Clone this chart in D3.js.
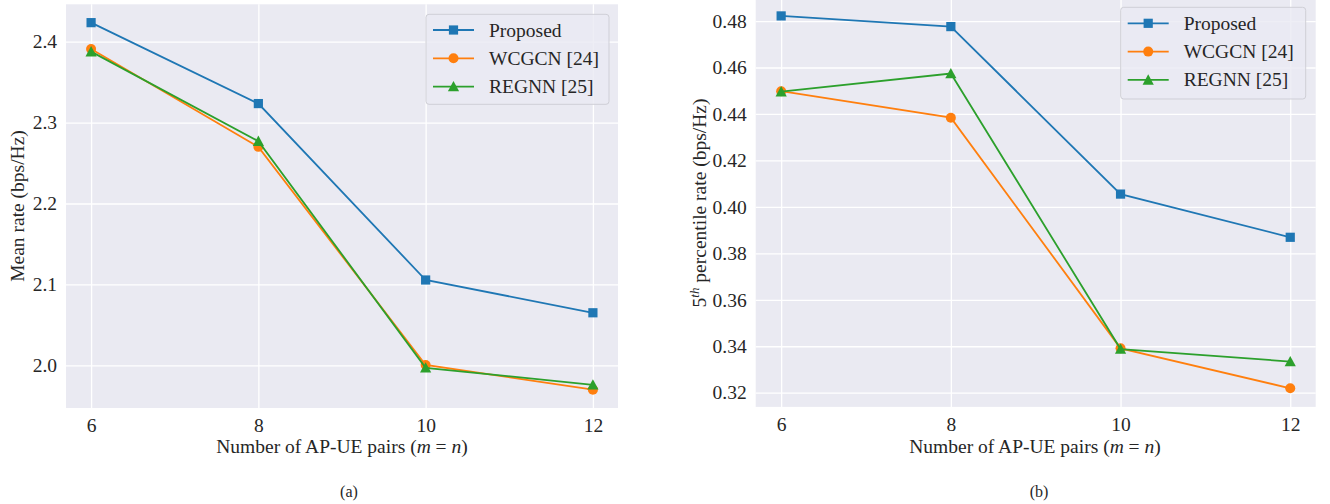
<!DOCTYPE html>
<html>
<head>
<meta charset="utf-8">
<script src="https://cdn.jsdelivr.net/npm/d3@7"></script>
<style>
  html, body { margin: 0; padding: 0; background: #ffffff; }
  svg { display: block; }
  svg text { font-family: 'Liberation Serif', 'Times New Roman', Times, 'DejaVu Serif', serif !important; fill: #262626; }
</style>
</head>
<body>
<svg id="chart" width="1330" height="504" font-family="Liberation Serif, Times New Roman, serif"></svg>
<script>
// ---------- data ----------
const xValues = [6, 8, 10, 12];
const seriesNames = ["Proposed", "WCGCN [24]", "REGNN [25]"];
const seriesColors = ["#1f77b4", "#ff7f0e", "#2ca02c"];
const seriesMarkers = ["square", "circle", "triangle"];

const meanProposed = [2.4235, 2.3235, 2.1055, 2.065];
const meanWCGCN    = [2.391, 2.270, 2.0005, 1.970];
const meanREGNN    = [2.3877, 2.277, 1.997, 1.976];

const p5Proposed = [0.4822, 0.4776, 0.4055, 0.3869];
const p5WCGCN    = [0.4498, 0.4384, 0.3391, 0.3219];
const p5REGNN    = [0.4496, 0.4574, 0.3388, 0.3334];

const xTicks = [6, 8, 10, 12];
const meanTicks = [2.0, 2.1, 2.2, 2.3, 2.4];
const p5Ticks = [0.32, 0.34, 0.36, 0.38, 0.40, 0.42, 0.44, 0.46, 0.48];

// ---------- drawing ----------
const svg = d3.select("#chart");
const FS = 19.5;
const FONT = "'Liberation Serif', 'Times New Roman', Times, serif";

function padDomain(arrs) {
  const all = arrs.flat();
  const mn = d3.min(all), mx = d3.max(all), sp = mx - mn;
  return [mn - 0.05 * sp, mx + 0.05 * sp];
}

function drawPanel(cfg) {
  const g = svg.append("g");
  const x = d3.scaleLinear().domain([5.7, 12.3]).range([cfg.left, cfg.right]);
  const y = d3.scaleLinear().domain(padDomain(cfg.series)).range([cfg.bottom, cfg.top]);

  g.append("rect")
    .attr("x", cfg.left).attr("y", cfg.top)
    .attr("width", cfg.right - cfg.left).attr("height", cfg.bottom - cfg.top)
    .attr("fill", "#eaeaf2");

  const yAxis = d3.axisLeft(y).tickValues(cfg.yTicks).tickFormat(d3.format(cfg.yFmt))
    .tickSize(-(cfg.right - cfg.left)).tickPadding(9);
  const ya = g.append("g").attr("transform", `translate(${cfg.left},0)`).call(yAxis);
  ya.attr("font-family", null).attr("font-size", null);
  ya.select(".domain").remove();
  ya.selectAll(".tick line").attr("stroke", "#ffffff").attr("stroke-width", 1.3);
  ya.selectAll(".tick text").attr("font-size", FS).style("font-family", FONT);

  const xAxis = d3.axisBottom(x).tickValues(xTicks).tickFormat(d3.format("d"))
    .tickSize(-(cfg.bottom - cfg.top)).tickPadding(10);
  const xa = g.append("g").attr("transform", `translate(0,${cfg.bottom})`).call(xAxis);
  xa.attr("font-family", null).attr("font-size", null);
  xa.select(".domain").remove();
  xa.selectAll(".tick line").attr("stroke", "#ffffff").attr("stroke-width", 1.3);
  xa.selectAll(".tick text").attr("font-size", FS).style("font-family", FONT);

  const clipId = "clip" + cfg.id;
  svg.append("clipPath").attr("id", clipId).append("rect")
    .attr("x", cfg.left).attr("y", cfg.top)
    .attr("width", cfg.right - cfg.left).attr("height", cfg.bottom - cfg.top);

  const plot = g.append("g").attr("clip-path", `url(#${clipId})`);
  const line = d3.line().x((d, i) => x(xValues[i])).y(d => y(d));

  cfg.series.forEach((vals, si) => {
    plot.append("path").datum(vals)
      .attr("d", line).attr("fill", "none")
      .attr("stroke", seriesColors[si]).attr("stroke-width", 1.8);
    vals.forEach((v, i) => {
      drawMarker(plot, seriesMarkers[si], x(xValues[i]), y(v), seriesColors[si]);
    });
  });

  const lg = g.append("g");
  lg.append("rect")
    .attr("x", cfg.legend.x).attr("y", cfg.legend.y)
    .attr("width", cfg.legend.w).attr("height", cfg.legend.h)
    .attr("rx", 3).attr("ry", 3)
    .attr("fill", "#eaeaf2").attr("fill-opacity", 0.8)
    .attr("stroke", "#cfcfd6").attr("stroke-width", 1);
  seriesNames.forEach((name, si) => {
    const ry = cfg.legend.y + cfg.legend.row0 + si * 28.3;
    const lx0 = cfg.legend.x + 7, lx1 = lx0 + 41;
    lg.append("line").attr("x1", lx0).attr("x2", lx1).attr("y1", ry).attr("y2", ry)
      .attr("stroke", seriesColors[si]).attr("stroke-width", 1.8);
    drawMarker(lg, seriesMarkers[si], (lx0 + lx1) / 2, ry, seriesColors[si]);
    lg.append("text").attr("x", cfg.legend.x + 63).attr("y", ry + 6.5)
      .attr("font-size", FS).style("font-family", FONT).text(name);
  });

  const xl = g.append("text").attr("x", (cfg.xLabelCenter)).attr("y", 453)
    .attr("text-anchor", "middle").attr("font-size", FS).style("font-family", FONT);
  xl.append("tspan").text("Number of AP-UE pairs (");
  xl.append("tspan").attr("font-style", "italic").text("m");
  xl.append("tspan").text(" = ");
  xl.append("tspan").attr("font-style", "italic").text("n");
  xl.append("tspan").text(")");

  const yl = g.append("text")
    .attr("transform", `translate(${cfg.yLabelX},${cfg.yLabelY}) rotate(-90)`)
    .attr("text-anchor", "middle").attr("font-size", FS).style("font-family", FONT);
  cfg.yLabel(yl);

  g.append("text").attr("x", cfg.captionX).attr("y", 497)
    .attr("text-anchor", "middle").attr("font-size", 16).style("font-family", FONT)
    .text(cfg.caption);
}

function drawMarker(sel, type, cx, cy, color) {
  if (type === "square") {
    sel.append("rect").attr("x", cx - 4.6).attr("y", cy - 4.6)
      .attr("width", 9.2).attr("height", 9.2).attr("fill", color);
  } else if (type === "circle") {
    sel.append("circle").attr("cx", cx).attr("cy", cy).attr("r", 5).attr("fill", color);
  } else {
    const s = 5.6;
    sel.append("path")
      .attr("d", `M${cx},${cy - s} L${cx + s},${cy + s * 0.85} L${cx - s},${cy + s * 0.85} Z`)
      .attr("fill", color);
  }
}

drawPanel({
  id: "a", left: 66, right: 618, top: 4.3, bottom: 408,
  series: [meanProposed, meanWCGCN, meanREGNN],
  yTicks: meanTicks, yFmt: ".1f",
  legend: { x: 426, y: 14.3, w: 183, h: 90, row0: 15.7 },
  xLabelCenter: 342, yLabelX: 24, yLabelY: 206,
  yLabel: t => t.text("Mean rate (bps/Hz)"),
  caption: "(a)", captionX: 349
});

drawPanel({
  id: "b", left: 755.7, right: 1315.7, top: -2.7, bottom: 406.9,
  series: [p5Proposed, p5WCGCN, p5REGNN],
  yTicks: p5Ticks, yFmt: ".2f",
  legend: { x: 1120.7, y: 7.3, w: 185, h: 91.7, row0: 16 },
  xLabelCenter: 1035, yLabelX: 706, yLabelY: 203,
  yLabel: t => {
    t.append("tspan").text("5");
    t.append("tspan").attr("font-style", "italic").attr("font-size", 13)
      .attr("dy", -7).text("th");
    t.append("tspan").attr("dy", 7).text(" percentile rate (bps/Hz)");
  },
  caption: "(b)", captionX: 1039
});
</script>
</body>
</html>
